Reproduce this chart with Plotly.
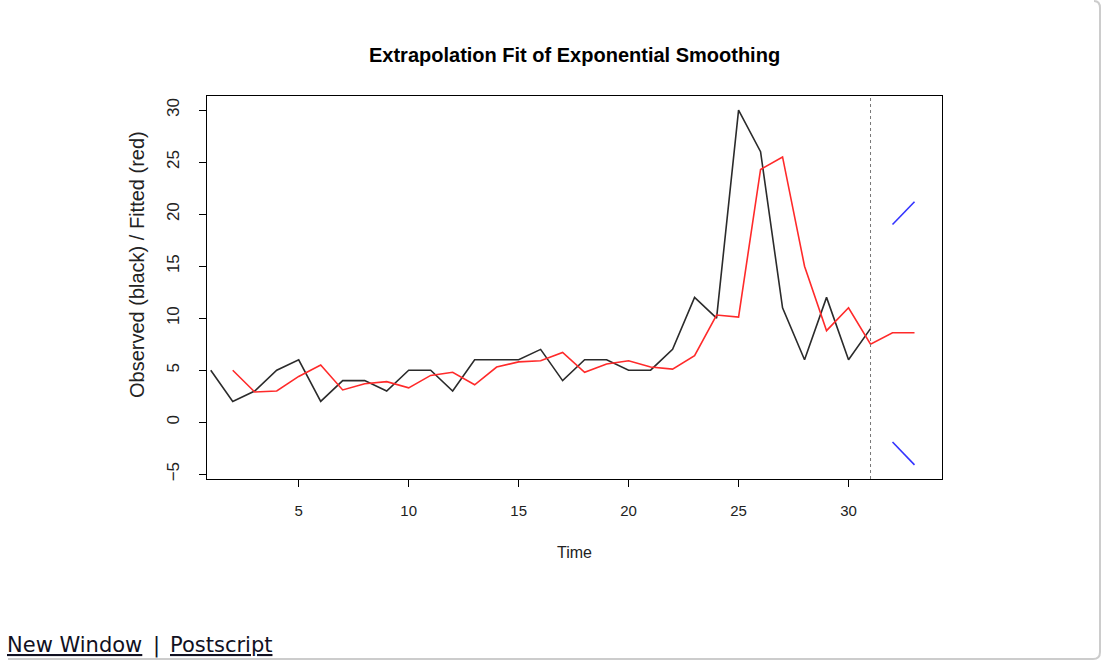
import plotly.graph_objects as go

# ---- data ----
time_obs = list(range(1, 32))
observed = [5, 2, 3, 5, 6, 2, 4, 4, 3, 5, 5, 3, 6, 6, 6, 7, 4, 6, 6, 5, 5, 7, 12, 10, 30, 26, 11, 6, 12, 6, 9]
time_fit = list(range(2, 34))
fitted = [5.0, 2.9, 3.0, 4.4, 5.5, 3.1, 3.7, 3.9, 3.3, 4.5, 4.8, 3.6, 5.3, 5.8, 5.9, 6.7, 4.8, 5.6,
          5.9, 5.3, 5.1, 6.4, 10.3, 10.1, 24.3, 25.5, 15.0, 8.8, 11.0, 7.5, 8.6, 8.6]
time_fc = [32, 33]
upper = [19.0, 21.2]
lower = [-1.9, -4.1]
forecast_start = 31
x_ticks = [5, 10, 15, 20, 25, 30]
y_ticks = [-5, 0, 5, 10, 15, 20, 25, 30]

# ---- layout geometry (pixels) ----
W, H = 1105, 664
L, R, T, B = 207, 942, 96, 479
PW, PH = R - L, B - T


def px(x):
    return (x - L) / PW


def py(y):
    return (B - y) / PH


FONT = "Liberation Sans, Arial, sans-serif"
LINKFONT = dict(family="DejaVu Sans, sans-serif", size=21, color="#111122")

fig = go.Figure()
fig.add_trace(go.Scatter(x=time_obs, y=observed, mode="lines",
                         line=dict(color="#2b2b2b", width=1.6), showlegend=False))
fig.add_trace(go.Scatter(x=time_fit, y=fitted, mode="lines",
                         line=dict(color="#ff2a2a", width=1.6), showlegend=False))
fig.add_trace(go.Scatter(x=time_fc, y=upper, mode="lines",
                         line=dict(color="#3333ff", width=1.6), showlegend=False))
fig.add_trace(go.Scatter(x=time_fc, y=lower, mode="lines",
                         line=dict(color="#3333ff", width=1.6), showlegend=False))

fig.add_shape(type="line", xref="x", yref="paper", x0=forecast_start, x1=forecast_start,
              y0=0, y1=1, line=dict(color="#777777", width=1, dash="dot"))

# page frame (right and bottom border)
fig.add_shape(type="path", xref="paper", yref="paper",
              path=f"M {px(8)},{py(659)} L {px(1093)},{py(659)} Q {px(1100)},{py(659)} {px(1100)},{py(652)} "
                   f"L {px(1100)},{py(8)} Q {px(1100)},{py(1)} {px(1094)},{py(1)}",
              line=dict(color="#cccccc", width=2))

axis_common = dict(showline=True, mirror=True, linecolor="black", linewidth=1,
                   ticks="outside", ticklen=7, tickwidth=1, tickcolor="black",
                   showgrid=False, zeroline=False)

fig.update_layout(
    width=W, height=H,
    margin=dict(l=L, r=W - R, t=T, b=H - B),
    paper_bgcolor="white", plot_bgcolor="white",
    xaxis=dict(range=[0.83, 34.25], tickvals=x_ticks, ticktext=[str(v) for v in x_ticks],
               ticklabelstandoff=11, tickfont=dict(family=FONT, size=15, color="#222222"),
               **axis_common),
    yaxis=dict(range=[-5.46, 31.36], tickvals=y_ticks,
               ticktext=[("\u2212" + str(-v)) if v < 0 else str(v) for v in y_ticks],
               tickangle=-90, ticklabelstandoff=13,
               tickfont=dict(family=FONT, size=17, color="#222222"), **axis_common),
    annotations=[
        dict(text="<b>Extrapolation Fit of Exponential Smoothing</b>", xref="paper", yref="paper",
             x=0.5, y=py(55), xanchor="center", yanchor="middle", showarrow=False,
             font=dict(family=FONT, size=20, color="black")),
        dict(text="Time", xref="paper", yref="paper", x=px(574.5), y=py(552),
             xanchor="center", yanchor="middle", showarrow=False,
             font=dict(family=FONT, size=16, color="#222222")),
        dict(text="Observed (black) / Fitted (red)", xref="paper", yref="paper", x=px(137), y=py(265),
             xanchor="center", yanchor="middle", textangle=-90, showarrow=False,
             font=dict(family=FONT, size=20, color="#222222")),
        dict(text="<span style='text-decoration:underline'>New Window</span>",
             xref="paper", yref="paper", x=px(5), y=py(645), xanchor="left", yanchor="middle",
             showarrow=False, font=LINKFONT),
        dict(text="|", xref="paper", yref="paper", x=px(156), y=py(645), xanchor="center",
             yanchor="middle", showarrow=False, font=LINKFONT),
        dict(text="<span style='text-decoration:underline'>Postscript</span>",
             xref="paper", yref="paper", x=px(168), y=py(645), xanchor="left", yanchor="middle",
             showarrow=False, font=LINKFONT),
    ],
)

fig.write_html("out.html", config={"displayModeBar": False},
               post_script="document.body.style.margin='0';")
